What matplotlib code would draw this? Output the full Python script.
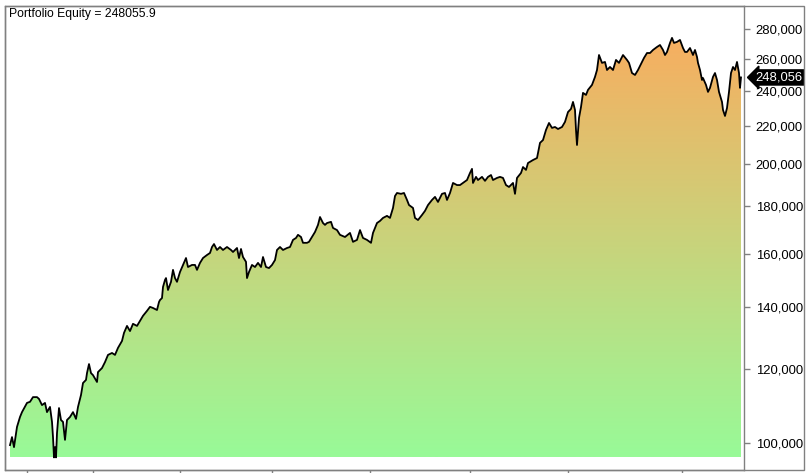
import numpy as np
import matplotlib
matplotlib.use("Agg")
import matplotlib.pyplot as plt
from matplotlib.ticker import FixedLocator, FuncFormatter, NullLocator
from matplotlib.patches import Rectangle
import matplotlib.transforms as mtransforms

plt.rcParams['font.family'] = ['Liberation Sans', 'DejaVu Sans']

# bar number (trading day) and portfolio equity
day = [0, 2, 4, 7, 10, 12, 17, 20, 23, 27, 29, 32, 35, 37, 40, 42, 43, 44, 45, 46,
       47, 49, 51, 53, 55, 57, 60, 63, 66, 68, 71, 73, 76, 77, 79, 81, 83, 87, 88, 92,
       95, 98, 102, 105, 108, 112, 114, 117, 120, 123, 127, 130, 133, 137, 140, 143, 147, 149, 150, 152,
       153, 155, 156, 158, 161, 163, 165, 167, 170, 173, 176, 178, 182, 185, 187, 190, 193, 197, 200, 202,
       204, 207, 210, 213, 217, 221, 223, 227, 229, 231, 233, 236, 237, 239, 242, 245, 248, 251, 253, 256,
       259, 262, 265, 267, 270, 273, 277, 280, 283, 286, 288, 291, 293, 297, 299, 302, 305, 308, 310, 313,
       315, 317, 321, 323, 327, 330, 335, 340, 343, 347, 350, 353, 357, 361, 363, 367, 370, 373, 377, 380,
       383, 385, 387, 391, 394, 397, 399, 403, 405, 408, 412, 415, 418, 422, 425, 428, 432, 435, 437, 440,
       443, 447, 450, 453, 457, 460, 462, 463, 466, 468, 472, 475, 478, 481, 483, 487, 490, 493, 496, 499,
       503, 505, 507, 511, 513, 516, 518, 523, 527, 530, 533, 536, 539, 542, 545, 548, 552, 555, 558, 561,
       563, 565, 566, 567, 569, 571, 573, 576, 578, 582, 585, 587, 589, 592, 595, 597, 600, 603, 606, 609,
       613, 617, 619, 622, 625, 628, 632, 634, 637, 640, 643, 647, 650, 653, 655, 657, 660, 662, 664, 667,
       670, 673, 675, 677, 680, 683, 685, 687, 688, 690, 692, 693, 696, 698, 700, 703, 705, 707, 709, 712,
       713, 715, 717, 719, 721, 723, 725, 727, 729, 730, 731]
equity = [99400, 101400, 98900, 104000, 106600, 107900, 110400, 110700, 112000, 112000,
          111500, 109800, 110400, 107900, 109300, 105300, 101400, 96400, 98900, 96400,
          102400, 109000, 105800, 105300, 100700, 105800, 106600, 107900, 106100, 109300,
          112600, 116000, 116900, 118900, 121600, 118900, 118300, 116300, 119200, 120400,
          122200, 124400, 125000, 124400, 126600, 128800, 131400, 133700, 132000, 134400,
          133700, 135400, 137100, 138800, 140200, 139800, 139100, 141900, 142600, 143300,
          147300, 149900, 150600, 146200, 149200, 153700, 150600, 149200, 152900, 155600,
          158300, 154800, 155600, 155600, 153700, 156400, 158300, 159500, 160300, 162700,
          163900, 161500, 162700, 161500, 162700, 161500, 160700, 162300, 158300, 161900,
          158700, 156800, 150600, 152900, 155600, 154800, 156400, 154800, 158700, 154800,
          154400, 155600, 157500, 161500, 162700, 161500, 162300, 162700, 165600, 166400,
          167700, 166800, 164400, 164400, 164800, 166800, 168900, 171900, 175300, 172700,
          171900, 172700, 173200, 170600, 169700, 167700, 166800, 168500, 164800, 165600,
          169700, 166400, 165600, 164400, 168500, 172700, 173600, 174900, 175800, 174900,
          179300, 184700, 186100, 185700, 186100, 182900, 180600, 179300, 174900, 174000,
          176200, 178000, 180600, 182900, 184300, 182000, 185700, 186100, 182900, 186100,
          190800, 189800, 189800, 190800, 192200, 195600, 197600, 190800, 193700, 192200,
          193700, 191800, 193700, 194600, 192200, 193200, 193700, 193200, 189800, 188900,
          190800, 185700, 193200, 195600, 198500, 197100, 200500, 202000, 203000, 210800,
          212300, 217700, 221500, 218800, 219300, 218200, 219300, 222100, 227600, 229400,
          233400, 228800, 217700, 209700, 224300, 230500, 238700, 237500, 240500, 243500,
          248400, 252700, 262300, 257200, 257800, 252700, 254600, 252700, 259100, 257200,
          262300, 259100, 257200, 250800, 249600, 252700, 257800, 260400, 263600, 263600,
          265600, 267600, 268900, 265600, 262300, 264300, 270300, 273700, 270300, 271000,
          272300, 266900, 264300, 264300, 266900, 262300, 265600, 261000, 257200, 252700,
          246500, 247700, 243500, 239300, 241700, 248400, 250800, 246500, 239300, 233400,
          228800, 225400, 229900, 239300, 250800, 254600, 252700, 257800, 250800, 241700,
          248056]
period_starts = [17, 83, 170, 262, 360, 460, 558, 672]
price_ticks = [100000, 120000, 140000, 160000, 180000, 200000, 220000, 240000, 260000, 280000]

last_value = 248055.9
bottom_color = (152 / 255, 250 / 255, 152 / 255)
top_color = (247 / 255, 174 / 255, 96 / 255)
frame = '#808080'

W, H = 811, 473
fig = plt.figure(figsize=(W / 100, H / 100), dpi=100)
ax = fig.add_axes([5 / W, (H - 470) / H, (744 - 5) / W, (470 - 6) / H])

ax.set_yscale('log')
ylo, yhi = 93430, 296300
ax.set_xlim(-5, 734)
ax.set_ylim(ylo, yhi)

# gradient fill under the curve, clipped to the area polygon
x = np.array(day)
y = np.array(equity, dtype=float)
ymin, ymax = y.min(), y.max()
poly = ax.fill_between(x, y, ymin, facecolor='none', edgecolor='none')
f0 = (np.log(ymin) - np.log(ylo)) / (np.log(yhi) - np.log(ylo))
f1 = (np.log(ymax) - np.log(ylo)) / (np.log(yhi) - np.log(ylo))
t = np.linspace(0, 1, 256)[:, None, None]
grad = (1 - t) * np.array(bottom_color) + t * np.array(top_color)
im = ax.imshow(grad, origin='lower', aspect='auto', extent=[0, 1, f0, f1],
               transform=ax.transAxes, zorder=1, interpolation='bilinear')
im.set_clip_path(poly.get_paths()[0], transform=ax.transData)
ax.plot(x, y, color='black', lw=1.3, zorder=3)

ax.set_xlim(-5, 734)
ax.set_ylim(ylo, yhi)

ax.yaxis.tick_right()
ax.yaxis.set_major_locator(FixedLocator(price_ticks))
ax.yaxis.set_minor_locator(NullLocator())
ax.yaxis.set_major_formatter(FuncFormatter(lambda v, p: f'{v:,.0f}'))
ax.xaxis.set_major_locator(FixedLocator(period_starts))
ax.xaxis.set_minor_locator(NullLocator())
ax.tick_params(axis='y', which='major', direction='out', length=4, width=1,
               color=frame, labelsize=9.4, labelcolor='black', pad=4.5)
ax.tick_params(axis='x', which='major', direction='out', length=3, width=1,
               color=frame, labelbottom=False)
for s in ax.spines.values():
    s.set_color(frame)
    s.set_linewidth(1)

# outer frame including the price axis
fig.patches.append(Rectangle((5 / W, (H - 470) / H), (804 - 5) / W, (470 - 6) / H,
                             transform=fig.transFigure, fill=False,
                             edgecolor=frame, lw=1))

ax.text(4 / 739, 1 - 2 / 464, f'Portfolio Equity = {last_value}', transform=ax.transAxes,
        ha='left', va='top', fontsize=8.7, color='black')

# last value marker on the price axis
trans = mtransforms.blended_transform_factory(ax.transAxes, ax.transData)
ax.text(1 + 11.5 / 739, last_value, f'{last_value:,.0f}', transform=trans,
        ha='left', va='center', fontsize=9.4, color='white', clip_on=False,
        bbox=dict(boxstyle='larrow,pad=0.12', fc='black', ec='black'))

fig.savefig('out.png', dpi=100)
